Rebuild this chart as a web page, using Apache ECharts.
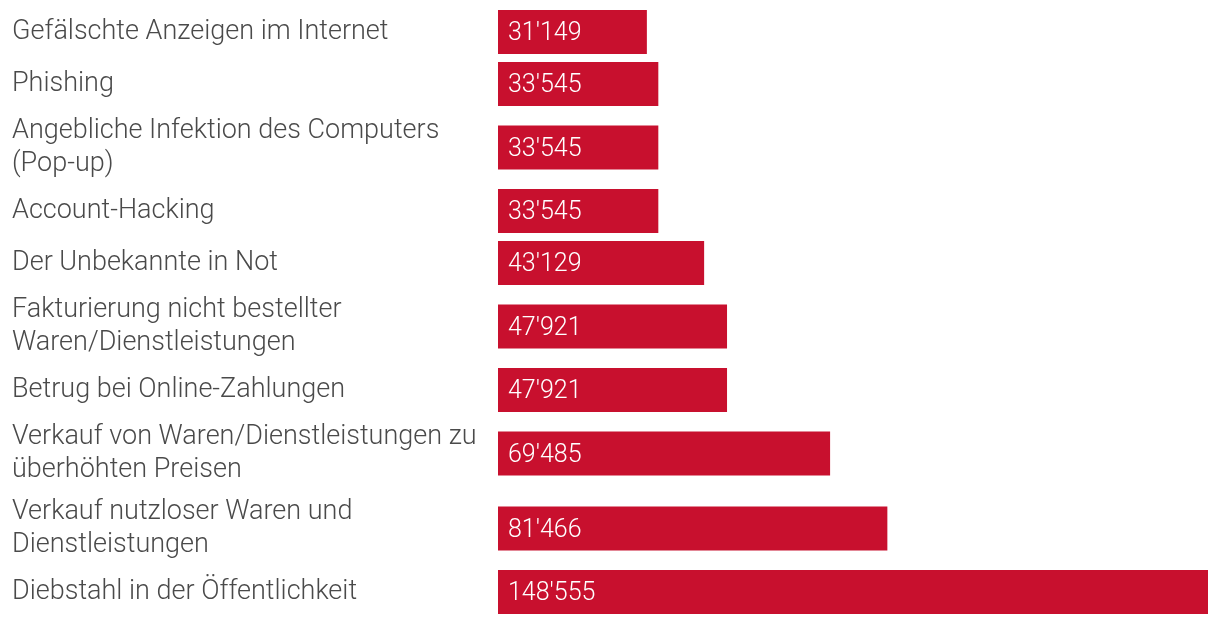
<!DOCTYPE html>
<html>
<head>
<meta charset="utf-8">
<script src="https://cdn.jsdelivr.net/npm/echarts@6/dist/echarts.min.js"></script>
<style>
html,body{margin:0;padding:0;background:#fff;}
#chart{width:1220px;height:626px;}
</style>
</head>
<body>
<div id="chart"></div>
<script>
const categories = [
  "Gefälschte Anzeigen im Internet",
  "Phishing",
  "Angebliche Infektion des Computers\n(Pop-up)",
  "Account-Hacking",
  "Der Unbekannte in Not",
  "Fakturierung nicht bestellter\nWaren/Dienstleistungen",
  "Betrug bei Online-Zahlungen",
  "Verkauf von Waren/Dienstleistungen zu\nüberhöhten Preisen",
  "Verkauf nutzloser Waren und\nDienstleistungen",
  "Diebstahl in der Öffentlichkeit"
];
const values = [31149, 33545, 33545, 33545, 43129, 47921, 47921, 69485, 81466, 148555];

const FONT = 'Roboto';
const RED = '#c8102e';
const TEXT = '#4a4a4a';
const maxVal = Math.max(...values);

function fmt(v){ return String(v).replace(/\B(?=(\d{3})+(?!\d))/g, "'"); }

const chart = echarts.init(document.getElementById('chart'), null, {renderer:'canvas'});
const grids = [], xAxes = [], yAxes = [], series = [];
let rowTop = 6;
categories.forEach((c, i) => {
  const lines = c.split('\n').length;
  const h = lines > 1 ? 75 : 52;
  grids.push({left: 498, right: 12, top: rowTop, height: h});
  xAxes.push({type:'value', gridIndex:i, min:0, max:maxVal, show:false});
  yAxes.push({type:'category', gridIndex:i, data:[c],
    axisLine:{show:false}, axisTick:{show:false},
    axisLabel:{align:'left', margin:486, color:TEXT, fontFamily:FONT, fontWeight:300, fontSize:27, lineHeight:33,
      padding:[4,0,0,0]}
  });
  series.push({type:'bar', xAxisIndex:i, yAxisIndex:i, data:[values[i]], barWidth:44,
    itemStyle:{color:RED},
    label:{show:true, position:'insideLeft', distance:10, offset:[0,2], color:'#fff', fontFamily:FONT, fontWeight:300, fontSize:25,
      formatter: p => fmt(p.value)},
    silent:true, animation:false});
  rowTop += h;
});
chart.setOption({animation:false, grid:grids, xAxis:xAxes, yAxis:yAxes, series:series});
</script>
</body>
</html>
